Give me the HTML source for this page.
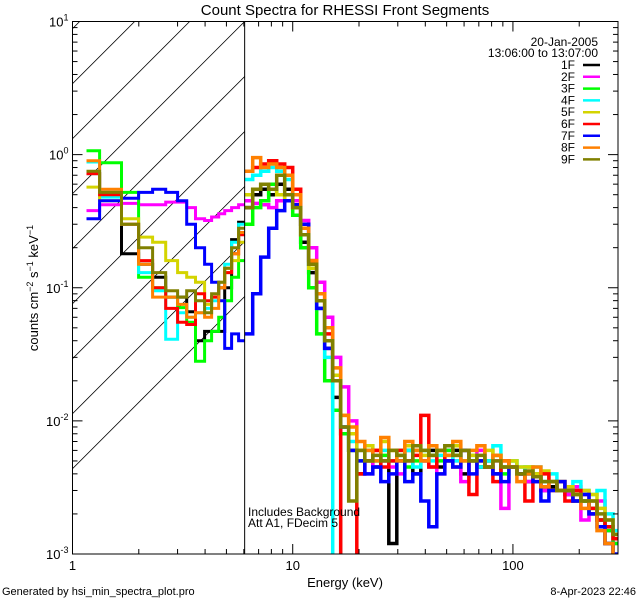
<!DOCTYPE html>
<html><head><meta charset="utf-8"><style>
body{margin:0;background:#fff;}
svg{display:block;font-family:"Liberation Sans",sans-serif;}
</style></head><body>
<svg id="chart" width="640" height="600" viewBox="0 0 640 600" xmlns="http://www.w3.org/2000/svg">
<rect width="640" height="600" fill="#fff"/>
<defs><clipPath id="plotclip"><rect x="72.5" y="21.5" width="545.5" height="532.5"/></clipPath>
<clipPath id="hatchclip"><rect x="72.5" y="21.5" width="172.5" height="532.5"/></clipPath></defs>
<g id="hatch" clip-path="url(#hatchclip)"></g>
<g id="series" clip-path="url(#plotclip)"></g>
<g id="axes"></g>
<text x="345" y="15" font-size="15" text-anchor="middle">Count Spectra for RHESSI Front Segments</text>
<text x="345" y="587" font-size="13" text-anchor="middle">Energy (keV)</text>
<text transform="translate(38,288) rotate(-90)" font-size="13" text-anchor="middle">counts cm<tspan dy="-5" font-size="9">−2</tspan><tspan dy="5"> s</tspan><tspan dy="-5" font-size="9">−1</tspan><tspan dy="5"> keV</tspan><tspan dy="-5" font-size="9">−1</tspan></text>
<text x="2" y="595" font-size="11">Generated by hsi_min_spectra_plot.pro</text>
<text x="636" y="595" font-size="11" text-anchor="end">8-Apr-2023 22:46</text>
<text x="248" y="516" font-size="12">Includes Background</text>
<text x="248" y="527" font-size="12">Att A1, FDecim 5</text>
<text x="598" y="46" font-size="12" text-anchor="end">20-Jan-2005</text>
<text x="598" y="57" font-size="12" text-anchor="end">13:06:00 to 13:07:00</text>
<g id="legend"></g>
</svg>
<script>
const lowEdges=[1.158,1.327,1.670,1.995,2.31,2.65,3.0,3.30,3.62,3.98,4.28,4.61,4.91,5.28,5.68,6.05];
const segNames=["1F","2F","3F","4F","5F","6F","7F","8F","9F"];
const segColors=["#000000","#ff00ff","#00ff00","#00ffff","#d4d400","#ff0000","#0000ff","#ff8000","#808000"];
const low1F=[0.72,0.52,0.18,0.15,0.12,0.085,0.085,0.066,0.040,0.047,0.047,0.047,0.10,0.23,0.31];
const low2F=[0.38,0.42,0.43,0.42,0.42,0.44,0.44,0.40,0.33,0.32,0.34,0.36,0.38,0.40,0.42];
const low3F=[1.07,0.87,0.52,0.12,0.10,0.085,0.071,0.055,0.028,0.040,0.047,0.060,0.080,0.12,0.16];
const low4F=[0.88,0.48,0.30,0.13,0.095,0.041,0.065,0.060,0.065,0.070,0.080,0.10,0.15,0.22,0.30];
const low5F=[0.57,0.45,0.33,0.24,0.22,0.16,0.13,0.12,0.11,0.075,0.085,0.11,0.13,0.16,0.22];
const low6F=[0.72,0.50,0.30,0.16,0.10,0.070,0.055,0.053,0.090,0.080,0.085,0.10,0.13,0.18,0.25];
const low7F=[0.33,0.45,0.47,0.52,0.55,0.52,0.45,0.30,0.20,0.15,0.11,0.080,0.035,0.045,0.040];
const low8F=[0.90,0.55,0.30,0.15,0.085,0.085,0.075,0.060,0.065,0.060,0.070,0.10,0.14,0.18,0.26];
const low9F=[0.75,0.52,0.30,0.20,0.13,0.095,0.085,0.095,0.08,0.065,0.09,0.11,0.14,0.20,0.28];
// high-energy bins: 47 log-spaced bins from 6.05 keV
const hi1F=[0.40,0.50,0.55,0.50,0.60,0.55,0.40,0.22,0.13,0.07,0.035,0.015,0.008,0.006,0.004,0.005,0.0045,0.005,0.0012,0.005,0.006,0.004,0.005,0.006,0.0045,0.005,0.006,0.004,0.005,0.0045,0.005,0.004,0.0045,0.0045,0.004,0.0035,0.004,0.003,0.0032,0.003,0.0028,0.0025,0.0025,0.002,0.0018,0.0012,0.0009];
const hi2F=[0.45,0.43,0.42,0.40,0.45,0.50,0.45,0.32,0.20,0.11,0.06,0.03,0.018,0.010,0.006,0.004,0.006,0.005,0.0045,0.004,0.005,0.006,0.005,0.0045,0.004,0.006,0.005,0.0035,0.005,0.006,0.0045,0.005,0.0022,0.0045,0.004,0.0035,0.004,0.003,0.0035,0.003,0.0028,0.0032,0.0018,0.002,0.0025,0.0015,0.0012];
const hi3F=[0.30,0.40,0.45,0.60,0.50,0.45,0.35,0.20,0.10,0.045,0.02,0.012,0.008,0.006,0.005,0.006,0.005,0.0055,0.005,0.006,0.0045,0.005,0.006,0.0055,0.005,0.006,0.0055,0.005,0.005,0.0045,0.005,0.0055,0.004,0.005,0.004,0.0045,0.004,0.0035,0.0035,0.003,0.003,0.0028,0.0025,0.0022,0.0018,0.0015,0.0012];
const hi4F=[0.65,0.70,0.75,0.80,0.75,0.65,0.50,0.30,0.15,0.07,0.03,0.0009,0.009,0.007,0.006,0.0065,0.005,0.006,0.005,0.0055,0.006,0.0045,0.006,0.005,0.0055,0.0065,0.005,0.006,0.0055,0.0045,0.005,0.0065,0.0045,0.005,0.0045,0.004,0.0045,0.0035,0.004,0.0035,0.003,0.0035,0.003,0.0028,0.003,0.002,0.0015];
const hi5F=[0.50,0.55,0.60,0.55,0.50,0.45,0.40,0.25,0.14,0.08,0.04,0.022,0.011,0.008,0.006,0.0065,0.006,0.007,0.006,0.0055,0.0065,0.006,0.0055,0.0065,0.006,0.0055,0.0065,0.006,0.0055,0.005,0.006,0.0055,0.0045,0.005,0.0045,0.0045,0.004,0.0042,0.0035,0.0035,0.0032,0.003,0.003,0.0028,0.0022,0.0018,0.0014];
const hi6F=[0.75,0.80,0.85,0.90,0.85,0.80,0.55,0.30,0.16,0.09,0.045,0.02,0.0008,0.0006,0.004,0.005,0.006,0.0045,0.005,0.006,0.005,0.0055,0.011,0.0045,0.006,0.005,0.0045,0.006,0.0028,0.005,0.0045,0.0035,0.005,0.0045,0.004,0.0025,0.0035,0.004,0.003,0.0035,0.0025,0.003,0.0028,0.0022,0.0018,0.0016,0.0013];
const hi7F=[0.045,0.09,0.17,0.28,0.38,0.45,0.42,0.30,0.15,0.07,0.035,0.02,0.009,0.006,0.005,0.004,0.0045,0.0035,0.004,0.005,0.0035,0.004,0.0025,0.0016,0.004,0.005,0.0045,0.006,0.004,0.005,0.0045,0.004,0.0035,0.0045,0.004,0.004,0.0035,0.0025,0.003,0.0035,0.003,0.0025,0.0028,0.002,0.0016,0.0012,0.001];
const hi8F=[0.75,0.95,0.80,0.85,0.80,0.70,0.50,0.28,0.16,0.09,0.05,0.025,0.011,0.009,0.007,0.006,0.005,0.0075,0.006,0.005,0.007,0.006,0.005,0.0065,0.006,0.0055,0.007,0.005,0.006,0.0065,0.0045,0.0055,0.005,0.0045,0.0035,0.004,0.0045,0.0032,0.0035,0.003,0.003,0.0028,0.0022,0.0025,0.0015,0.0012,0.0009];
const hi9F=[0.40,0.55,0.60,0.55,0.70,0.50,0.40,0.25,0.15,0.08,0.04,0.02,0.009,0.0025,0.006,0.005,0.0055,0.005,0.006,0.0055,0.005,0.0065,0.006,0.0055,0.006,0.0065,0.0055,0.006,0.005,0.0055,0.0045,0.005,0.0045,0.0045,0.004,0.0042,0.0038,0.0035,0.0035,0.003,0.003,0.0028,0.0025,0.0025,0.002,0.0018,0.0014];
const lowSeries=[low1F,low2F,low3F,low4F,low5F,low6F,low7F,low8F,low9F];
const hiSeries=[hi1F,hi2F,hi3F,hi4F,hi5F,hi6F,hi7F,hi8F,hi9F];
const xDecades=[1,10,100];
const yDecades=[-3,-2,-1,0,1];
const attenEdge=6.05;

const X0=72.5,X1=618,Y0=21.5,Y1=554;
const xmin=1,xmax=300,ymin=1e-3,ymax=10;
const xs=v=>X0+(Math.log10(v)-Math.log10(xmin))/(Math.log10(xmax)-Math.log10(xmin))*(X1-X0);
const ys=v=>Y1-(Math.log10(Math.max(v,1e-5))-Math.log10(ymin))/(Math.log10(ymax)-Math.log10(ymin))*(Y1-Y0);
const NS="http://www.w3.org/2000/svg";
function mk(tag,attrs,parent){const e=document.createElementNS(NS,tag);for(const k in attrs)e.setAttribute(k,attrs[k]);parent.appendChild(e);return e;}

// high energy edges
const hiEdges=[attenEdge];
for(let k=1;k<=hi1F.length;k++)hiEdges.push(attenEdge*Math.pow(10,k*0.03636));

// hatch
const hatch=document.getElementById('hatch');
for(let i=-12;i<6;i++){
  const xa=xs(attenEdge)+i*55;
  const l=mk('line',{x1:xa-600,y1:Y0+600,x2:xa,y2:Y0,stroke:'#000','stroke-width':0.8},hatch);
  
  
}

const sg=document.getElementById('series');
function stepPath(edges,vals){
  let d='';
  for(let i=0;i<vals.length;i++){
    const xa=xs(edges[i]),xb=xs(edges[i+1]),y=ys(vals[i]);
    d+=(i===0?'M':'L')+xa.toFixed(1)+','+y.toFixed(1)+'L'+xb.toFixed(1)+','+y.toFixed(1);
  }
  return d;
}
for(let s=0;s<segNames.length;s++){
  const g=mk('g',{},sg);
  
  
  const p1=mk('path',{d:stepPath(lowEdges,lowSeries[s]),fill:'none',stroke:segColors[s],'stroke-width':3},g);
  
  
  const p2=mk('path',{d:stepPath(hiEdges,hiSeries[s]),fill:'none',stroke:segColors[s],'stroke-width':3.5},g);
  
  
}

// axes
const ax=document.getElementById('axes');
const frame=mk('rect',{x:X0,y:Y0,width:X1-X0,height:Y1-Y0,fill:'none',stroke:'#000','stroke-width':1},ax);


const al=mk('line',{x1:xs(attenEdge),y1:Y0,x2:xs(attenEdge),y2:Y1,stroke:'#000','stroke-width':1},ax);


for(const d of xDecades){
  for(let m=1;m<10;m++){
    const v=d*m; if(v<xmin||v>xmax)continue;
    const x=xs(v),len=m===1?10:5;
    const t1=mk('line',{x1:x,y1:Y1,x2:x,y2:Y1-len,stroke:'#000'},ax);
    
    
    const t2=mk('line',{x1:x,y1:Y0,x2:x,y2:Y0+len,stroke:'#000'},ax);
    
    
    if(m===1){
      const t=mk('text',{x:x,y:Y1+16,'font-size':13,'text-anchor':'middle'},ax);
      t.textContent=String(v);
      
      
    }
  }
}
for(const e of yDecades){
  for(let m=1;m<10;m++){
    const v=Math.pow(10,e)*m; if(v<ymin*0.999||v>ymax*1.001)continue;
    const y=ys(v),len=m===1?10:5;
    const t1=mk('line',{x1:X0,y1:y,x2:X0+len,y2:y,stroke:'#000'},ax);
    
    
    const t2=mk('line',{x1:X1,y1:y,x2:X1-len,y2:y,stroke:'#000'},ax);
    
    
    if(m===1){
      const t=mk('text',{x:X0-4,y:y+5,'font-size':13,'text-anchor':'end'},ax);
      
      
      const a=document.createElementNS(NS,'tspan');a.textContent='10';t.appendChild(a);
      const b=document.createElementNS(NS,'tspan');b.setAttribute('dy','-6');b.setAttribute('font-size','9');b.textContent=String(e);t.appendChild(b);
    }
  }
}
// legend
const lg=document.getElementById('legend');
for(let s=0;s<segNames.length;s++){
  const y=69+s*11.8;
  const t=mk('text',{x:575,y:y,'font-size':12,'text-anchor':'end'},lg);
  t.textContent=segNames[s];
  
  
  const l=mk('line',{x1:583,y1:y-4,x2:600,y2:y-4,stroke:segColors[s],'stroke-width':2.5},lg);
  
  
}
</script>
</body></html>
